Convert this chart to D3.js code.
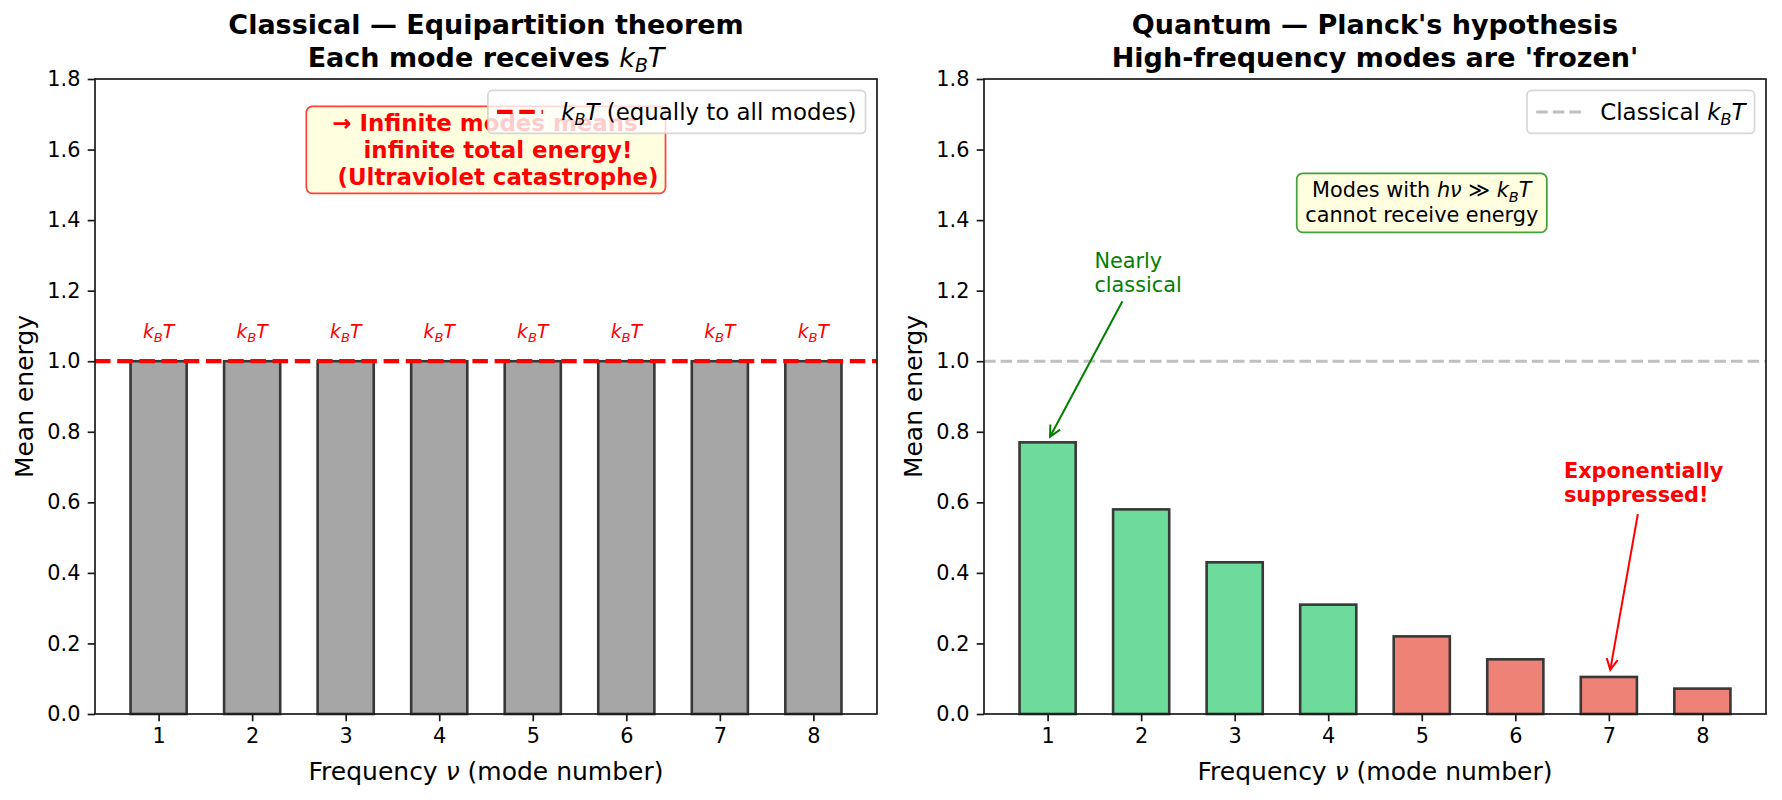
<!DOCTYPE html>
<html>
<head>
<meta charset="utf-8">
<script src="https://cdn.jsdelivr.net/npm/d3@7"></script>
<style>
    body { margin: 0; background: #fff; }
    svg { display: block; }
    text { font-family: "DejaVu Sans", sans-serif; }
</style>
</head>
<body>
<div id="chart"></div>
<script>
// ---- data ----
const modes = [1, 2, 3, 4, 5, 6, 7, 8];
const classicalEnergy = [1.0, 1.0, 1.0, 1.0, 1.0, 1.0, 1.0, 1.0];
const quantumEnergy = [0.77, 0.58, 0.43, 0.31, 0.22, 0.155, 0.105, 0.072];
const quantumGroup = ["near", "near", "near", "near", "frozen", "frozen", "frozen", "frozen"];
const yTicks = [0, 0.2, 0.4, 0.6, 0.8, 1.0, 1.2, 1.4, 1.6, 1.8];
const xDomain = [0.32, 8.68];
const yDomain = [0, 1.8];

// font sizes in px
const FS = {title: 27, label: 25, tick: 20.8, legend: 22.9, note: 22.9, small: 20.8, kbt: 18.75};
const KBT = [["k", "i"], ["B", "sub"], ["T", "i"]];

const svg = d3.select("#chart").append("svg")
    .attr("width", 1782)
    .attr("height", 800);
svg.append("rect").attr("width", 1782).attr("height", 800).attr("fill", "#fff");

// mixed text: "" normal, "i" italic math, "sub" italic subscript
function rich(text, parts, size) {
    let shifted = false;
    parts.forEach(([s, kind]) => {
        let ts = text.append("tspan").text(s);
        if (kind === "i" || kind === "sub") {
            ts.attr("font-style", "italic").attr("font-weight", "normal");
        }
        if (kind === "sub") {
            ts.attr("font-size", size * 0.7).attr("dy", size * 0.22);
            shifted = true;
        } else if (shifted) {
            ts.attr("dy", -size * 0.22);
            shifted = false;
        }
    });
    return text;
}

function makePanel(left, width, titleLines) {
    let p = {};
    p.w = width;
    p.h = 635;
    p.g = svg.append("g").attr("transform", `translate(${left}, 79)`);
    p.x = d3.scaleLinear().domain(xDomain).range([0, p.w]);
    p.y = d3.scaleLinear().domain(yDomain).range([p.h, 0]);
    p.layers = {
        bars: p.g.append("g"),
        lines: p.g.append("g"),
        axes: p.g.append("g"),
        notes: p.g.append("g"),
        legend: p.g.append("g")
    };

    // title
    titleLines.forEach((parts, i) => {
        let t = p.g.append("text")
            .attr("x", p.w / 2)
            .attr("y", -12.5 - (titleLines.length - 1 - i) * 32.5)
            .attr("text-anchor", "middle")
            .attr("font-size", FS.title)
            .attr("font-weight", "bold")
            .attr("fill", "#000");
        rich(t, parts, FS.title);
    });
    return p;
}

function drawBars(p, values, colorFn) {
    let bw = p.x(0.6) - p.x(0);
    p.layers.bars.selectAll(".bar")
        .data(modes)
        .enter()
        .append("rect")
        .attr("class", "bar")
        .attr("x", (d) => p.x(d) - bw / 2)
        .attr("y", (d, i) => p.y(values[i]))
        .attr("width", bw)
        .attr("height", (d, i) => p.h - p.y(values[i]))
        .attr("fill", (d, i) => colorFn(i))
        .attr("stroke", "#383838")
        .attr("stroke-width", 2.6);
}

function drawAxes(p) {
    let ax = p.layers.axes;
    let yAxis = d3.axisLeft(p.y)
        .tickValues(yTicks)
        .tickFormat(d3.format(".1f"))
        .tickSize(7.3)
        .tickPadding(7.3)
        .tickSizeOuter(0);
    let xAxis = d3.axisBottom(p.x)
        .tickValues(modes)
        .tickFormat(d3.format("d"))
        .tickSize(7.3)
        .tickPadding(7.3)
        .tickSizeOuter(0);

    ax.append("g").call(yAxis);
    ax.append("g").attr("transform", `translate(0, ${p.h})`).call(xAxis);
    ax.selectAll(".domain").remove();
    ax.selectAll(".tick line").attr("stroke", "#1a1a1a").attr("stroke-width", 1.7);
    ax.selectAll(".tick text")
        .attr("fill", "#000")
        .attr("font-size", FS.tick)
        .attr("font-family", "DejaVu Sans");
    ax.selectAll("g").attr("font-family", null).attr("font-size", null);

    ax.append("rect")
        .attr("width", p.w)
        .attr("height", p.h)
        .attr("fill", "none")
        .attr("stroke", "#1a1a1a")
        .attr("stroke-width", 1.7);

    // axis labels
    p.g.append("text")
        .attr("transform", `translate(-62, ${p.h / 2}) rotate(-90)`)
        .attr("text-anchor", "middle")
        .attr("font-size", FS.label)
        .attr("fill", "#000")
        .text("Mean energy");
    let xl = p.g.append("text")
        .attr("x", p.w / 2)
        .attr("y", p.h + 66)
        .attr("text-anchor", "middle")
        .attr("font-size", FS.label)
        .attr("fill", "#000");
    rich(xl, [["Frequency ", ""], ["\u03bd", "i"], [" (mode number)", ""]], FS.label);
}

function hline(p, value, color, width, dash) {
    p.layers.lines.append("line")
        .attr("x1", 0)
        .attr("x2", p.w)
        .attr("y1", p.y(value))
        .attr("y2", p.y(value))
        .attr("stroke", color)
        .attr("stroke-width", width)
        .attr("stroke-dasharray", dash);
}

function legend(p, parts, color, width, dash) {
    const fs = FS.legend, pad = 0.4 * fs, hl = 2 * fs, htp = 0.8 * fs, bap = 0.5 * fs;
    let lg = p.layers.legend;
    let frame = lg.append("rect");
    let txt = lg.append("text").attr("font-size", fs).attr("fill", "#000");
    rich(txt, parts, fs);
    let tw = txt.node().getComputedTextLength();
    let bw = pad + hl + htp + tw + pad;
    let bh = 43;
    let bx = p.w - bap - bw, by = bap;
    frame.attr("x", bx).attr("y", by)
        .attr("width", bw).attr("height", bh)
        .attr("rx", 4.6)
        .attr("fill", "#fff").attr("fill-opacity", 0.8)
        .attr("stroke", "#cccccc").attr("stroke-opacity", 0.8)
        .attr("stroke-width", 1.7);
    lg.append("line")
        .attr("x1", bx + pad).attr("x2", bx + pad + hl)
        .attr("y1", by + bh / 2).attr("y2", by + bh / 2)
        .attr("stroke", color).attr("stroke-width", width)
        .attr("stroke-dasharray", dash);
    txt.attr("x", bx + pad + hl + htp).attr("y", by + bh / 2 + 8);
}

// boxed multi-line note; opts.dx shifts single lines, pads may differ left/right
function noteBox(p, cx, cy, lines, opts) {
    let g = p.layers.notes.append("g");
    let box = g.append("rect");
    let t = g.append("text")
        .attr("text-anchor", "middle")
        .attr("font-size", opts.size)
        .attr("font-weight", opts.weight)
        .attr("fill", opts.color);
    let x0 = p.x(cx), y0 = p.y(cy);
    let n = lines.length;
    lines.forEach((parts, i) => {
        let line = t.append("tspan")
            .attr("x", x0 + (opts.dx ? opts.dx[i] : 0))
            .attr("y", y0 + (i - (n - 1) / 2) * opts.lineH + opts.size * 0.36);
        parts.forEach(([s, kind]) => {
            let ts = line.append("tspan").text(s);
            if (kind === "i") ts.attr("font-style", "italic").attr("font-weight", "normal");
            if (kind === "sub") ts.attr("font-style", "italic").attr("font-weight", "normal")
                .attr("font-size", opts.size * 0.7).attr("dy", opts.size * 0.22);
            if (kind === "after") ts.attr("font-style", "italic").attr("font-weight", "normal")
                .attr("dy", -opts.size * 0.22);
        });
    });
    let bb = t.node().getBBox();
    let padL = opts.padL || opts.padX, padR = opts.padR || opts.padX;
    box.attr("x", bb.x - padL).attr("y", bb.y - opts.padY)
        .attr("width", bb.width + padL + padR)
        .attr("height", bb.height + 2 * opts.padY)
        .attr("rx", opts.rx)
        .attr("fill", opts.fill)
        .attr("stroke", opts.stroke)
        .attr("stroke-opacity", opts.strokeOpacity)
        .attr("stroke-width", 1.7);
}

function arrow(p, from, to, color) {
    let x1 = p.x(from[0]), y1 = p.y(from[1]), x2 = p.x(to[0]), y2 = p.y(to[1]);
    let a = Math.atan2(y2 - y1, x2 - x1), L = 11, hw = 5.5;
    p.layers.notes.append("line")
        .attr("x1", x1).attr("y1", y1).attr("x2", x2).attr("y2", y2)
        .attr("stroke", color).attr("stroke-width", 2);
    let head = [
        [x2 - L * Math.cos(a) + hw * Math.sin(a), y2 - L * Math.sin(a) - hw * Math.cos(a)],
        [x2, y2],
        [x2 - L * Math.cos(a) - hw * Math.sin(a), y2 - L * Math.sin(a) + hw * Math.cos(a)]
    ];
    p.layers.notes.append("path")
        .attr("d", d3.line()(head))
        .attr("fill", "none")
        .attr("stroke", color).attr("stroke-width", 2);
}

function plainLines(p, xv, yv, lines, opts) {
    let t = p.layers.notes.append("text")
        .attr("font-size", opts.size)
        .attr("font-weight", opts.weight)
        .attr("fill", opts.color);
    lines.forEach((s, i) => {
        t.append("tspan").attr("x", p.x(xv)).attr("y", p.y(yv) + i * opts.lineH).text(s);
    });
}

// ---------- left panel: classical ----------
let left = makePanel(95, 782, [
    [["Classical \u2014 Equipartition theorem", ""]],
    [["Each mode receives ", ""], ...KBT]
]);
drawBars(left, classicalEnergy, () => "#a6a6a6");
hline(left, 1.0, "#ff0000", 4.2, "15.5,6.7");
drawAxes(left);

modes.forEach((m) => {
    let t = left.layers.notes.append("text")
        .attr("x", left.x(m))
        .attr("y", left.y(1.065))
        .attr("text-anchor", "middle")
        .attr("font-size", FS.kbt)
        .attr("fill", "#ff0000");
    rich(t, KBT, FS.kbt);
});

noteBox(left, 4.5, 1.6, [
    [["\u2192 Infinite modes means", ""]],
    [["infinite total energy!", ""]],
    [["(Ultraviolet catastrophe)", ""]]
], {size: FS.note, weight: "bold", color: "#ff0000", lineH: 27, padL: 26, padR: 7, padY: 3.5,
    dx: [-1, 12, 12], rx: 6, fill: "#ffffe0", stroke: "#ff0000", strokeOpacity: 0.75});

legend(left, [...KBT, [" (equally to all modes)", ""]], "#ff0000", 4.2, "15.5,6.7");

// ---------- right panel: quantum ----------
let right = makePanel(984, 782, [
    [["Quantum \u2014 Planck's hypothesis", ""]],
    [["High-frequency modes are 'frozen'", ""]]
]);
const groupColor = {near: "#6ddb9c", frozen: "#ee8276"};
drawBars(right, quantumEnergy, (i) => groupColor[quantumGroup[i]]);
hline(right, 1.0, "#c0c0c0", 3.1, "11.6,5");
drawAxes(right);

noteBox(right, 5, 1.45, [
    [["Modes with ", ""], ["h\u03bd", "i"], [" \u226b ", ""], ["k", "i"], ["B", "sub"], ["T", "after"]],
    [["cannot receive energy", ""]]
], {size: FS.small, weight: "normal", color: "#000", lineH: 25, padX: 8.5, padY: 5,
    rx: 6, fill: "#ffffe0", stroke: "#008000", strokeOpacity: 0.75});

plainLines(right, 1.5, 1.265, ["Nearly", "classical"],
    {size: FS.small, weight: "normal", color: "#008000", lineH: 24.5});
arrow(right, [1.8, 1.17], [1.026, 0.786], "#008000");

plainLines(right, 6.52, 0.669, ["Exponentially", "suppressed!"],
    {size: FS.small, weight: "bold", color: "#ff0000", lineH: 24.5});
arrow(right, [7.31, 0.567], [7.015, 0.125], "#ff0000");

legend(right, [["Classical ", ""], ...KBT], "#c0c0c0", 3.1, "11.6,5");
</script>
</body>
</html>
